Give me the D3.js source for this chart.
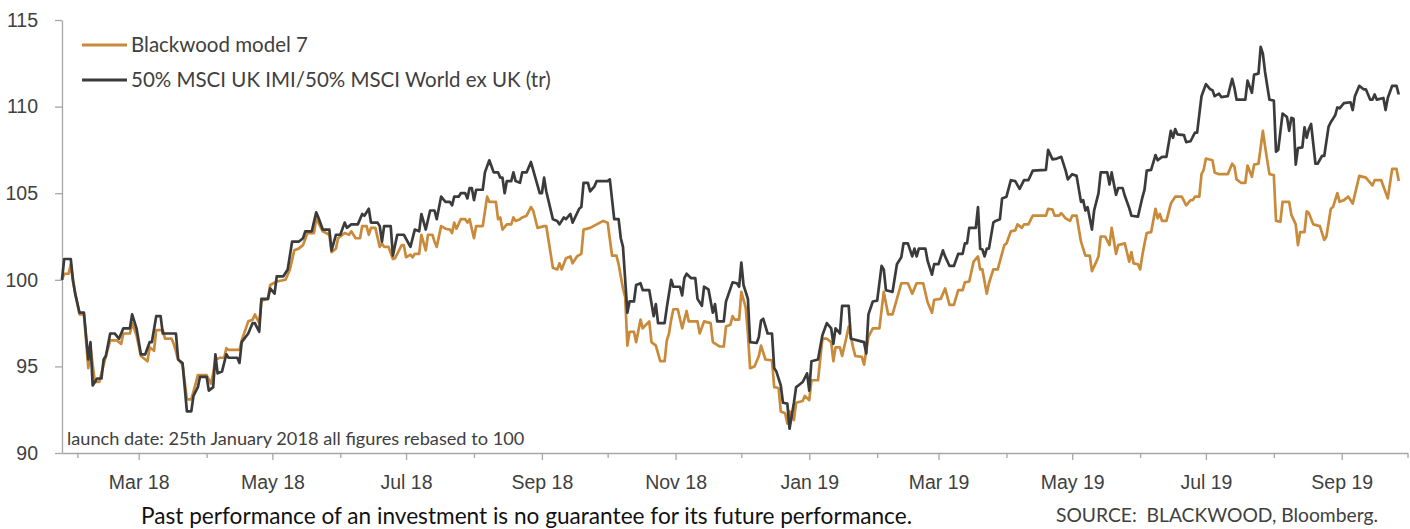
<!DOCTYPE html>
<html>
<head>
<meta charset="utf-8">
<script src="https://cdn.jsdelivr.net/npm/d3@7"></script>
<style>
  body { margin: 0; background: #fff; }
  svg { display: block; font-family: Lato, "Open Sans", sans-serif; }
  .axis path, .axis line { stroke: #a6a6a6; stroke-width: 1.3; }
  .axis text { fill: #404040; font-size: 19.5px; }
  .series { fill: none; stroke-width: 2.7; stroke-linejoin: round; }
</style>
</head>
<body>
<div id="chart"></div>
<script>
// launch date, all figures rebased to 100
const launchDate = new Date(2018, 0, 25);
const axisEnd = new Date(2019, 9, 1);

const seriesNames = ["Blackwood model 7", "50% MSCI UK IMI/50% MSCI World ex UK (tr)"];
const seriesColors = ["#c98a3a", "#3b3b3b"];
const yTicks = [90, 95, 100, 105, 110, 115];

// [days since launch, value]
const modelPoints = [[0,100.0],[1,100.35],[3,100.35],[4,100.9],[5,99.9],[8,98.0],[10,98.0],[12,94.9],[13,96.1],[15,94.1],[17,94.1],[19,95.1],[22,96.5],[25,96.5],[27,96.3],[28,96.9],[31,96.9],[32,97.5],[34,96.8],[36,95.6],[39,95.3],[40,96.1],[42,95.9],[43,97.1],[46,97.1],[47,96.6],[50,96.6],[51,96.3],[53,95.4],[55,95.1],[57,93.1],[59,93.1],[61,94.0],[62,94.5],[66,94.5],[68,94.0],[69,94.6],[70,95.4],[72,95.5],[74,95.5],[75,96.05],[76,95.95],[81,95.95],[82,96.5],[85,97.6],[87,97.7],[88,98.0],[90,97.5],[91,98.8],[94,98.9],[95,99.7],[98,99.9],[102,100.0],[104,100.6],[106,101.7],[108,101.8],[110,102.0],[112,102.7],[115,102.7],[116,103.55],[119,102.8],[122,102.6],[123,101.6],[125,101.8],[126,102.4],[127,102.5],[129,102.7],[131,102.6],[132,102.8],[134,102.4],[136,102.4],[137,103.1],[139,103.1],[140,102.6],[141,103.0],[143,103.0],[145,101.9],[146,102.1],[147,101.9],[149,101.9],[151,101.2],[152,101.25],[155,102.0],[156,102.0],[157,101.3],[159,101.45],[160,101.3],[161,101.5],[163,101.5],[164,102.6],[166,101.7],[167,102.6],[169,102.6],[170,102.2],[171,101.9],[173,103.1],[175,102.95],[177,102.9],[178,102.7],[179,103.3],[180,102.95],[182,103.5],[184,103.5],[185,103.3],[186,103.5],[188,102.4],[189,103.1],[192,103.1],[194,104.8],[195,104.5],[198,104.5],[199,103.5],[200,103.6],[201,102.9],[203,103.2],[205,103.2],[206,103.6],[207,103.4],[209,103.5],[210,103.6],[212,103.7],[214,104.2],[215,104.0],[217,103.0],[220,103.1],[221,103.1],[224,100.7],[226,100.6],[227,100.95],[228,100.6],[230,101.25],[232,101.35],[233,100.95],[235,101.35],[237,101.5],[238,102.9],[241,103.0],[244,103.2],[247,103.4],[249,103.3],[251,101.4],[253,101.4],[254,100.9],[256,99.5],[257,99.0],[258,96.2],[259,97.0],[261,97.0],[262,96.4],[264,97.7],[265,97.2],[268,97.6],[269,96.4],[271,96.2],[273,95.3],[275,95.3],[276,96.5],[277,96.9],[278,97.7],[279,98.3],[281,98.3],[283,97.2],[285,98.2],[286,97.6],[290,97.6],[291,96.9],[293,97.6],[296,97.5],[297,96.4],[300,96.15],[302,96.15],[303,97.3],[305,97.4],[306,97.9],[307,97.7],[309,97.7],[310,99.3],[312,98.4],[313,96.9],[314,94.9],[316,95.0],[318,95.6],[319,96.2],[321,95.4],[324,95.35],[325,93.8],[327,93.75],[328,92.4],[330,92.3],[331,91.7],[332,92.4],[334,91.9],[335,92.9],[338,93.0],[339,93.3],[341,93.05],[342,94.2],[345,94.2],[347,96.6],[349,96.6],[351,96.4],[352,95.3],[353,96.1],[355,96.1],[356,95.6],[358,96.7],[359,97.3],[361,96.1],[362,95.6],[365,95.55],[366,95.1],[368,96.7],[370,97.2],[373,97.2],[375,99.3],[377,98.0],[379,98.0],[381,98.9],[383,99.8],[386,99.8],[388,99.2],[390,99.8],[393,99.8],[395,98.7],[397,98.1],[398,98.85],[401,98.9],[403,99.5],[405,98.55],[407,98.55],[409,99.4],[411,99.4],[412,99.85],[414,99.9],[416,101.05],[418,101.35],[419,100.6],[420,100.6],[422,99.2],[423,99.8],[425,100.6],[427,100.6],[430,102.0],[431,102.1],[433,102.8],[435,102.85],[436,103.2],[438,103.0],[439,103.2],[441,103.2],[443,103.7],[449,103.7],[450,104.1],[452,104.05],[453,103.7],[455,103.7],[456,103.85],[458,103.55],[460,103.4],[461,103.7],[463,103.7],[465,102.2],[467,101.4],[469,101.4],[470,100.5],[472,101.05],[473,101.35],[474,102.5],[476,102.5],[478,102.0],[479,103.0],[481,101.5],[482,102.0],[485,102.1],[487,101.05],[488,101.6],[489,100.95],[491,100.9],[492,100.6],[493,101.4],[494,102.1],[495,102.7],[497,102.75],[499,104.1],[500,103.55],[501,103.8],[502,103.4],[504,103.4],[506,104.4],[508,104.8],[511,104.8],[513,104.3],[515,104.6],[516,104.6],[517,104.8],[519,104.8],[520,106.1],[521,106.35],[522,107.0],[525,106.9],[526,106.2],[528,106.1],[532,106.1],[534,106.7],[535,106.55],[536,105.8],[538,105.6],[540,105.6],[541,106.6],[543,105.95],[544,106.65],[546,106.7],[548,108.6],[549,107.7],[551,106.1],[553,106.05],[554,103.4],[556,103.35],[557,104.5],[560,104.5],[561,103.75],[563,103.2],[564,102.0],[565,102.75],[567,102.75],[568,103.95],[569,103.85],[571,103.2],[574,103.1],[576,102.3],[577,102.5],[579,104.1],[580,104.2],[582,105.0],[583,104.5],[585,104.6],[587,104.8],[589,104.4],[592,106.0],[595,105.9],[598,105.45],[599,105.75],[602,105.75],[605,104.7],[607,106.4],[609,106.4],[610,105.7]];

const benchPoints = [[0,100.0],[1,101.2],[4,101.2],[5,100.0],[6,99.2],[8,98.1],[10,98.1],[12,95.4],[13,96.4],[14,93.9],[16,94.3],[18,94.3],[19,95.4],[20,95.6],[22,96.9],[24,96.9],[26,96.6],[28,97.2],[31,97.2],[32,98.0],[34,97.2],[36,95.7],[38,95.7],[40,96.4],[41,96.4],[43,97.9],[45,97.9],[46,96.9],[52,96.9],[53,95.4],[55,95.2],[57,92.4],[59,92.4],[60,93.3],[62,93.8],[63,94.4],[66,94.4],[67,93.6],[69,93.8],[70,95.7],[71,94.6],[73,94.7],[75,95.7],[76,95.5],[80,95.5],[81,95.2],[82,96.4],[85,96.9],[87,97.5],[88,97.5],[90,97.0],[91,98.9],[94,98.9],[95,99.5],[97,99.2],[98,100.2],[101,100.2],[103,100.6],[105,102.2],[108,102.2],[110,102.4],[111,102.8],[114,102.8],[116,103.9],[117,103.6],[119,102.9],[122,102.9],[123,101.7],[125,102.6],[127,102.6],[129,103.3],[130,103.0],[132,103.2],[135,103.2],[137,103.8],[138,103.7],[140,104.1],[141,103.3],[144,103.3],[145,103.1],[146,102.2],[147,103.1],[150,103.1],[151,101.4],[153,102.6],[156,102.6],[159,101.9],[161,102.9],[163,102.8],[164,103.8],[166,102.9],[168,104.0],[170,104.0],[171,103.5],[173,104.8],[175,104.5],[177,104.5],[178,104.3],[179,104.8],[181,104.8],[182,105.0],[184,105.0],[185,104.7],[186,105.3],[187,105.3],[188,104.6],[189,105.2],[192,105.2],[193,106.2],[195,106.9],[197,106.2],[199,106.2],[200,105.9],[201,105.9],[202,105.0],[203,105.7],[205,105.7],[206,106.2],[207,105.7],[209,105.6],[210,106.2],[212,106.2],[214,106.8],[216,105.9],[218,105.0],[219,105.0],[220,105.9],[221,105.1],[224,103.5],[226,103.4],[227,103.2],[229,103.6],[230,103.5],[232,103.8],[233,103.3],[236,104.1],[237,104.2],[238,105.6],[240,105.6],[241,105.1],[243,105.4],[244,105.7],[249,105.7],[250,105.8],[252,103.5],[254,103.5],[255,102.4],[256,101.9],[258,98.1],[259,98.75],[261,98.75],[262,99.7],[264,99.8],[265,99.4],[268,99.4],[270,97.9],[271,98.6],[272,97.5],[275,97.5],[276,98.4],[278,100.0],[279,99.6],[282,99.6],[283,99.1],[284,100.1],[285,100.35],[287,100.1],[289,100.1],[290,98.9],[292,98.5],[293,99.6],[295,99.45],[297,98.1],[298,98.6],[299,97.6],[302,97.6],[303,98.75],[306,99.85],[308,99.8],[309,99.6],[310,101.0],[311,99.7],[313,98.9],[314,96.4],[317,96.35],[318,96.7],[319,97.65],[320,97.75],[322,96.9],[324,96.9],[325,94.9],[326,94.7],[328,93.9],[329,92.9],[331,92.85],[332,91.4],[334,92.9],[335,93.8],[336,93.9],[338,94.1],[340,94.6],[341,93.6],[342,95.3],[345,95.4],[347,96.8],[349,97.5],[351,97.2],[352,96.3],[353,97.2],[355,96.9],[356,98.5],[359,98.5],[360,96.6],[363,96.5],[366,96.4],[367,95.75],[368,98.0],[370,98.75],[372,98.8],[374,100.8],[375,100.6],[376,99.4],[379,99.3],[381,100.9],[383,101.3],[384,102.1],[386,102.1],[388,101.35],[389,101.8],[390,101.35],[391,101.8],[394,101.8],[395,101.1],[397,100.3],[398,100.9],[400,100.9],[402,101.7],[403,101.35],[405,100.8],[407,100.8],[409,101.5],[411,101.5],[412,102.1],[413,102.1],[414,103.0],[417,103.0],[418,104.2],[419,101.8],[420,101.75],[421,101.35],[422,101.8],[423,101.8],[425,103.3],[426,103.4],[428,103.5],[429,104.7],[431,104.8],[433,105.75],[435,105.7],[437,105.25],[439,105.75],[441,105.75],[443,106.3],[449,106.35],[450,107.5],[452,106.95],[454,107.0],[456,107.1],[458,106.3],[459,105.8],[461,106.1],[463,106.0],[465,104.5],[466,104.6],[467,104.0],[468,104.2],[470,102.9],[471,104.0],[473,105.0],[474,106.2],[477,106.2],[478,105.5],[479,106.2],[481,104.9],[482,105.3],[484,105.3],[485,104.85],[487,104.15],[488,103.7],[491,103.65],[493,104.75],[494,105.2],[495,106.3],[497,106.35],[499,107.2],[500,106.9],[502,107.1],[504,107.1],[506,108.6],[507,108.2],[508,108.7],[509,108.4],[512,108.35],[513,107.95],[515,108.0],[517,108.5],[518,108.5],[520,110.6],[522,111.3],[524,111.0],[525,110.95],[526,110.6],[528,110.75],[529,110.55],[532,110.6],[534,111.6],[535,111.1],[536,110.4],[540,110.4],[541,111.5],[543,110.8],[544,111.85],[546,111.9],[547,113.45],[548,113.05],[549,112.0],[551,110.4],[553,110.35],[554,107.4],[555,107.5],[557,109.6],[559,109.4],[560,108.6],[561,109.35],[562,109.3],[563,106.65],[564,107.6],[566,107.65],[567,108.8],[568,108.2],[569,108.7],[570,109.0],[572,106.7],[573,106.7],[575,107.15],[576,107.15],[578,108.85],[579,109.1],[581,109.5],[582,109.95],[583,109.9],[585,110.2],[588,110.25],[589,109.8],[590,110.6],[592,111.2],[594,111.0],[595,111.0],[597,110.4],[598,110.4],[599,110.7],[600,110.4],[603,110.5],[604,109.8],[605,110.5],[607,111.2],[609,111.2],[610,110.7]];

const noteText = "launch date: 25th January 2018 all figures rebased to 100";
const disclaimerText = "Past performance of an investment is no guarantee for its future performance.";
const sourceText = "SOURCE:  BLACKWOOD, Bloomberg.";

// plot sizes
const width = 1410, height = 529;
const margin = { top: 20, right: 2.5, bottom: 76, left: 62 };

const svg = d3.select("#chart")
  .append("svg")
  .attr("width", width)
  .attr("height", height);

// --- Scales ---
const x = d3.scaleTime()
  .domain([launchDate, axisEnd])
  .range([margin.left, width - margin.right]);

const y = d3.scaleLinear()
  .domain([90, 115])
  .range([height - margin.bottom, margin.top]);

// --- Axes ---
const months = d3.timeMonth.range(d3.timeMonth.ceil(launchDate), d3.timeDay.offset(axisEnd, 1));
const isLabelled = d => d.getMonth() % 2 === 0; // Jan, Mar, May ...

const xAxis = svg.append("g")
  .attr("class", "axis x-axis")
  .attr("transform", `translate(0, ${y(90)})`)
  .call(d3.axisBottom(x)
    .tickValues(months)
    .tickSize(7)
    .tickSizeOuter(0)
    .tickPadding(15)
    .tickFormat(d => isLabelled(d) ? d3.timeFormat("%b %y")(d) : ""));

xAxis.selectAll(".tick line")
  .attr("y2", d => isLabelled(d) ? 7 : 5);

const yAxis = svg.append("g")
  .attr("class", "axis y-axis")
  .attr("transform", `translate(${margin.left}, 0)`)
  .call(d3.axisLeft(y)
    .tickValues(yTicks)
    .tickSize(7)
    .tickSizeOuter(0)
    .tickPadding(17));

// --- Lines ---
const line = d3.line()
  .x(d => x(d3.timeDay.offset(launchDate, d[0])))
  .y(d => y(d[1]));

svg.append("g")
  .selectAll("path")
  .data([modelPoints, benchPoints])
  .join("path")
  .attr("class", "series")
  .attr("stroke", (d, i) => seriesColors[i])
  .attr("d", line);

// --- Legend ---
const legend = svg.append("g")
  .selectAll("g")
  .data(seriesNames)
  .join("g")
  .attr("transform", (d, i) => `translate(82, ${45 + i * 35})`);

legend.append("line")
  .attr("x2", 45)
  .attr("stroke", (d, i) => seriesColors[i])
  .attr("stroke-width", 3);

legend.append("text")
  .attr("x", 49)
  .attr("dy", "0.35em")
  .style("font-size", "20.5px")
  .style("fill", "#404040")
  .text(d => d);

// --- Annotations ---
svg.append("text")
  .attr("x", 67)
  .attr("y", 445)
  .style("font-size", "18.2px")
  .style("fill", "#404040")
  .text(noteText);

svg.append("text")
  .attr("x", 141)
  .attr("y", 524)
  .attr("textLength", 771)
  .attr("lengthAdjust", "spacingAndGlyphs")
  .style("font-size", "22.5px")
  .style("fill", "#111")
  .text(disclaimerText);

svg.append("text")
  .attr("x", 1056)
  .attr("y", 522)
  .attr("textLength", 322)
  .attr("lengthAdjust", "spacingAndGlyphs")
  .style("white-space", "pre")
  .style("font-size", "19px")
  .style("fill", "#404040")
  .text(sourceText);
</script>
</body>
</html>
